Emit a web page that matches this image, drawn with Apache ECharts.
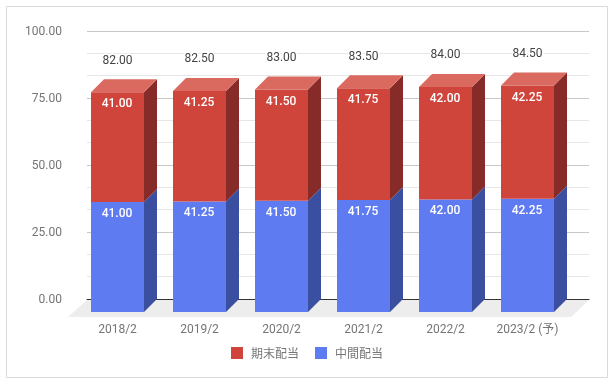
<!DOCTYPE html>
<html><head><meta charset="utf-8">
<style>html,body{margin:0;padding:0;background:#fff}#c{width:614px;height:384px}</style>
<script src="https://cdn.jsdelivr.net/npm/echarts@6/dist/echarts.min.js"></script>
</head><body><div id="c"></div>
<script>
const categories = ['2018/2','2019/2','2020/2','2021/2','2022/2','2023/2 (予)'];
const interim = [41.00,41.25,41.50,41.75,42.00,42.25];
const finalDiv = [41.00,41.25,41.50,41.75,42.00,42.25];
const totals = [82.00,82.50,83.00,83.50,84.00,84.50];
const yTicks = {min:0,max:100,interval:25};

const FONT = 'Roboto, "Noto Sans CJK JP", sans-serif';
const DX = 13, DY = 13;
const chart = echarts.init(document.getElementById('c'),null,{renderer:'canvas'});

function box(api, base, top, cols){
  const cat = api.value(0);
  const p0 = api.coord([cat, base]);
  const p1 = api.coord([cat, top]);
  const w = 53, l = Math.round(p0[0]-w/2+0.01), r = l+w;
  const kids = [
    {type:'polygon',shape:{points:[[r,p1[1]],[r+DX,p1[1]-DY],[r+DX,p0[1]-DY],[r,p0[1]]]},style:{fill:cols.side}},
    {type:'rect',shape:{x:l,y:p1[1],width:w,height:p0[1]-p1[1]},style:{fill:cols.front}}
  ];
  if(cols.top) kids.push({type:'polygon',shape:{points:[[l,p1[1]],[l+DX,p1[1]-DY],[r+DX,p1[1]-DY],[r,p1[1]]]},style:{fill:cols.top}});
  kids.push({type:'text',style:{text:top-base>0?(top-base).toFixed(2):'',x:(l+r)/2-0.5,y:p1[1]+12,align:'center',verticalAlign:'middle',fill:'#fff',font:'500 12px '+FONT}});
  return {type:'group',children:kids};
}
const rows = categories.map((c,i)=>[i,interim[i],finalDiv[i],totals[i]]);

chart.setOption({
  animation:false,
  backgroundColor:'#fff',
  graphic:[
    {type:'rect',z:0,silent:true,shape:{x:6.5,y:6.5,width:601,height:371},style:{fill:'none',stroke:'#d9d9d9',lineWidth:1}},
    {type:'polygon',z:1,silent:true,shape:{points:[[87,300],[589,300],[571,317],[68,317]]},style:{fill:'#ededed'}}
  ],
  legend:{
    data:['期末配当','中間配当'],left:226,top:342,itemWidth:12,itemHeight:12,itemGap:16,icon:'rect',
    selectedMode:false,
    textStyle:{color:'#757575',fontSize:12,fontFamily:'"Noto Sans CJK JP", sans-serif',padding:[0,0,0,3]}
  },
  grid:[
    {left:87,top:31,width:502,height:268,containLabel:false},
    {left:76.5,top:44,width:492,height:268,containLabel:false},
    {left:87,top:32,width:502,height:268,containLabel:false}
  ],
  xAxis:[
    {gridIndex:0,type:'category',data:categories,axisLabel:{show:false},axisTick:{show:false},
      axisLine:{show:true,onZero:false,lineStyle:{color:'#333',width:1}},splitLine:{show:false}},
    {gridIndex:1,type:'category',data:categories,axisTick:{show:false},axisLine:{show:false},splitLine:{show:false},
      axisLabel:{interval:0,color:'#757575',fontSize:12,fontFamily:FONT,margin:12,hideOverlap:false}},
    {gridIndex:2,type:'category',data:categories,show:false}
  ],
  yAxis:[
    {gridIndex:0,type:'value',min:yTicks.min,max:yTicks.max,interval:yTicks.interval,
      axisLine:{show:false},axisTick:{show:false},axisLabel:{show:false},
      splitLine:{show:true,lineStyle:{color:'#c8c8c8',width:1}},
      minorTick:{show:false,splitNumber:3},
      minorSplitLine:{show:true,lineStyle:{color:'#e6e6e6',width:1}}},
    {gridIndex:1,type:'value',min:yTicks.min,max:yTicks.max,interval:yTicks.interval,
      axisLine:{show:false},axisTick:{show:false},axisLabel:{show:false},splitLine:{show:false}},
    {gridIndex:2,type:'value',min:yTicks.min,max:yTicks.max,interval:yTicks.interval,
      axisLine:{show:false},axisTick:{show:false},splitLine:{show:false},
      axisLabel:{color:'#757575',fontSize:12,fontFamily:FONT,margin:25,formatter:v=>v.toFixed(2)}}
  ],
  series:[
    {name:'中間配当',type:'custom',xAxisIndex:1,yAxisIndex:1,z:3,silent:true,
      itemStyle:{color:'#5f7bf2'},data:rows,encode:{x:0,y:1},
      renderItem:(p,api)=>box(api,0,api.value(1),{front:'#5f7bf2',side:'#3b4fa0'})},
    {name:'期末配当',type:'custom',xAxisIndex:1,yAxisIndex:1,z:4,silent:true,
      itemStyle:{color:'#cf453c'},data:rows,encode:{x:0,y:3},
      renderItem:(p,api)=>box(api,api.value(1),api.value(1)+api.value(2),{front:'#cf453c',side:'#862b27',top:'#da6a60'})},
    {name:'合計',type:'custom',xAxisIndex:1,yAxisIndex:1,z:5,silent:true,data:rows,encode:{x:0,y:3},
      renderItem:(p,api)=>{
        const c=api.coord([api.value(0),api.value(3)]);
        return {type:'text',style:{text:api.value(3).toFixed(2),x:c[0],y:c[1]-DY-18.5,align:'center',verticalAlign:'middle',
          fill:'#444',font:'12px '+FONT,stroke:'#fff',lineWidth:3}};
      }}
  ]
});
</script></body></html>
